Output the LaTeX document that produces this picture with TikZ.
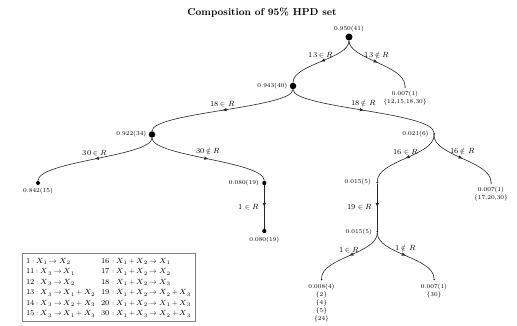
\documentclass[tikz,border=0pt]{standalone}
\usepackage{unicode-math}
\usetikzlibrary{arrows.meta,decorations.markings}
\begin{document}
\begin{tikzpicture}[x=1pt,y=-1pt,
  dotnode/.style={circle,fill=black,inner sep=0pt,minimum size=#1},
  lab/.style={font=\fontsize{6}{8}\selectfont,inner sep=1pt,align=center},
  elab/.style={font=\fontsize{7.5}{9}\selectfont,inner sep=1pt},
  edgeline/.style={draw=black!85,line width=0.6pt,postaction={decorate},
    decoration={markings,mark=at position 0.5 with {\arrow{Latex[length=4pt,width=3.5pt]}}}},
]
\useasboundingbox (0,0) rectangle (517,326);

\node[font=\bfseries] (title) at (262,12.7) {Composition of 95\% HPD set};

% tree nodes (dot size grows with the count)
\node[dotnode=7pt,label={[lab,label distance=0.5pt]above:0.950(41)}] (r) at (349,37) {};
\node[dotnode=6.5pt,label={[lab,label distance=1pt]left:0.943(40)}] (a) at (293,86) {};
\node[dotnode=1.5pt,label={[lab,label distance=2pt]below:{0.007(1)\\\{12,15,18,30\}}}] (b) at (405,87) {};
\node[dotnode=6.5pt,label={[lab,label distance=1pt]left:0.922(34)}] (c) at (152,134.5) {};
\node[dotnode=2pt,label={[lab,label distance=3pt]left:0.021(6)}] (d) at (434,134) {};
\node[dotnode=4pt,label={[lab,label distance=2pt]below:0.842(15)}] (e) at (38,183) {};
\node[dotnode=4.2pt,label={[lab,label distance=2pt]left:0.080(19)}] (f) at (264.3,183) {};
\node[dotnode=2pt,label={[lab,label distance=4pt]left:0.015(5)}] (g) at (377.3,182.5) {};
\node[dotnode=1.5pt,label={[lab,label distance=2pt]below:{0.007(1)\\\{17,20,30\}}}] (h) at (491,183) {};
\node[dotnode=4.2pt,label={[lab,label distance=2pt]below:0.080(19)}] (i) at (264.3,231) {};
\node[dotnode=2pt,label={[lab,label distance=3pt]left:0.015(5)}] (j) at (377.3,231.7) {};
\node[dotnode=1.5pt,label={[lab,label distance=2pt]below:{0.008(4)\\\{2\}\\\{4\}\\\{5\}\\\{24\}}}] (k) at (321.5,279.5) {};
\node[dotnode=1.5pt,label={[lab,label distance=2pt]below:{0.007(1)\\\{30\}}}] (m) at (434,279.5) {};

% branches
\draw[edgeline] (r) .. controls +(0,22) and +(0,-22) .. (a) node[elab,midway,above=2pt] (e1) {$13\in R$};
\draw[edgeline] (r) .. controls +(0,22) and +(0,-22) .. (b) node[elab,midway,above=2pt] (e2) {$13\notin R$};
\draw[edgeline] (a) .. controls +(0,22) and +(0,-22) .. (c) node[elab,midway,above=2pt] (e3) {$18\in R$};
\draw[edgeline] (a) .. controls +(0,22) and +(0,-22) .. (d) node[elab,midway,above=2pt] (e4) {$18\notin R$};
\draw[edgeline] (c) .. controls +(0,22) and +(0,-22) .. (e) node[elab,midway,above=2pt] (e5) {$30\in R$};
\draw[edgeline] (c) .. controls +(0,22) and +(0,-22) .. (f) node[elab,midway,above=2pt] (e6) {$30\notin R$};
\draw[edgeline] (f) -- (i) node[elab,midway,left=4pt] (e7) {$1\in R$};
\draw[edgeline] (d) .. controls +(0,22) and +(0,-22) .. (g) node[elab,midway,above=2pt] (e8) {$16\in R$};
\draw[edgeline] (d) .. controls +(0,22) and +(0,-22) .. (h) node[elab,midway,above=2pt] (e9) {$16\notin R$};
\draw[edgeline] (g) -- (j) node[elab,midway,left=4pt] (e10) {$19\in R$};
\draw[edgeline] (j) .. controls +(0,22) and +(0,-22) .. (k) node[elab,midway,above=2pt] (e11) {$1\in R$};
\draw[edgeline] (j) .. controls +(0,22) and +(0,-22) .. (m) node[elab,midway,above=2pt] (e12) {$1\notin R$};

% reaction key
\node[draw=black!50,line width=0.4pt,anchor=north west,inner xsep=4pt,inner ysep=2.5pt,
      font=\fontsize{7.5}{10.5}\selectfont] (legend) at (22,253) {%
  \begin{tabular}{@{}p{75.5pt}@{}l@{}}
    $1: X_1\to X_2$ & $16: X_1+X_2\to X_1$\\
    $11: X_3\to X_1$ & $17: X_1+X_2\to X_2$\\
    $12: X_3\to X_2$ & $18: X_1+X_2\to X_3$\\
    $13: X_3\to X_1+X_2$ & $19: X_1+X_2\to X_2+X_3$\\
    $14: X_3\to X_2+X_3$ & $20: X_1+X_2\to X_1+X_3$\\
    $15: X_3\to X_1+X_3$ & $30: X_1+X_3\to X_2+X_3$
  \end{tabular}};
\end{tikzpicture}
\end{document}
